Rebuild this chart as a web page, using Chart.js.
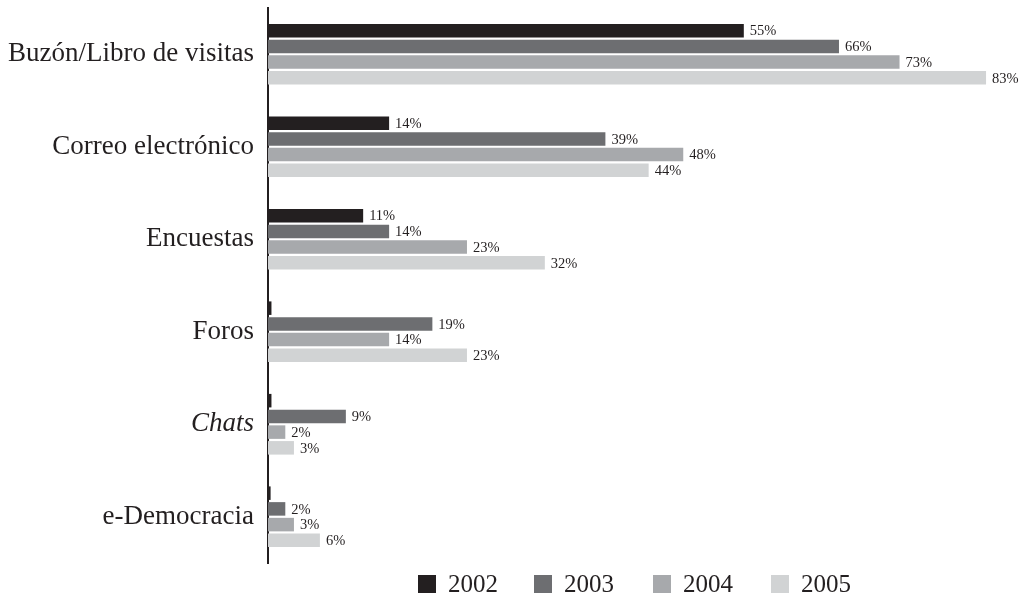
<!DOCTYPE html>
<html>
<head>
<meta charset="utf-8">
<script src="https://cdn.jsdelivr.net/npm/chart.js@4/dist/chart.umd.min.js"></script>
<style>
  html, body { margin: 0; padding: 0; background: #fff; }
  #wrap { width: 1022px; height: 607px; }
</style>
</head>
<body>
<div id="wrap"><canvas id="chart"></canvas></div>
<script>
// categories and values (percent)
const categories = ["Buzón/Libro de visitas", "Correo electrónico", "Encuestas", "Foros", "Chats", "e-Democracia"];
const years = ["2002", "2003", "2004", "2005"];
const v2002 = [55, 14, 11, 0.4, 0.4, 0.3];
const v2003 = [66, 39, 14, 19, 9, 2];
const v2004 = [73, 48, 23, 14, 2, 3];
const v2005 = [83, 44, 32, 23, 3, 6];
// labels shown next to bars (null = no label)
const l2002 = ["55%", "14%", "11%", null, null, null];
const l2003 = ["66%", "39%", "14%", "19%", "9%", "2%"];
const l2004 = ["73%", "48%", "23%", "14%", "2%", "3%"];
const l2005 = ["83%", "44%", "32%", "23%", "3%", "6%"];
const colors = ["#231f20", "#6d6e71", "#a7a9ac", "#d1d3d4"];

const serif = '"Liberation Serif", "DejaVu Serif", serif';

const series = [v2002, v2003, v2004, v2005];
const labelSets = [l2002, l2003, l2004, l2005];

// value labels at the end of each bar
const barLabels = {
  id: 'barLabels',
  afterDatasetsDraw(chart) {
    const ctx = chart.ctx;
    ctx.save();
    ctx.font = '14.5px ' + serif;
    ctx.fillStyle = '#231f20';
    ctx.textBaseline = 'middle';
    ctx.textAlign = 'left';
    chart.data.datasets.forEach((ds, i) => {
      const meta = chart.getDatasetMeta(i);
      meta.data.forEach((bar, j) => {
        const txt = labelSets[i][j];
        if (!txt) return;
        ctx.fillText(txt, bar.x + 6, bar.y + 1);
      });
    });
    ctx.restore();
  }
};

// legend drawn by hand so the spacing matches
const bottomLegend = {
  id: 'bottomLegend',
  afterDraw(chart) {
    const ctx = chart.ctx;
    const xs = [418, 534, 653, 771];
    const y = 584;
    ctx.save();
    ctx.font = '25px ' + serif;
    ctx.textBaseline = 'middle';
    years.forEach((yr, i) => {
      ctx.fillStyle = colors[i];
      ctx.fillRect(xs[i], y - 9, 18, 18);
      ctx.fillStyle = '#231f20';
      ctx.fillText(yr, xs[i] + 30, y + 1);
    });
    ctx.restore();
  }
};

new Chart(document.getElementById('chart'), {
  type: 'bar',
  data: {
    labels: categories,
    datasets: series.map((s, i) => ({
      label: years[i],
      data: s,
      backgroundColor: colors[i],
      borderWidth: 0,
      categoryPercentage: 0.68,
      barPercentage: 0.86
    }))
  },
  options: {
    indexAxis: 'y',
    responsive: true,
    maintainAspectRatio: false,
    animation: false,
    layout: { padding: { left: 0, right: 10, top: 8, bottom: 44 } },
    plugins: {
      legend: { display: false },
      tooltip: { enabled: false }
    },
    scales: {
      x: {
        display: false,
        min: 0,
        max: 86
      },
      y: {
        afterFit(scale) {
          scale.width = 268;
          scale.paddingTop = 0;
          scale.paddingBottom = 0;
        },
        grid: { display: false, drawTicks: false },
        border: { display: true, color: '#231f20', width: 2 },
        ticks: {
          color: '#231f20',
          padding: 14,
          font(c) {
            return { family: serif, size: 27, style: c.index === 4 ? 'italic' : 'normal' };
          }
        }
      }
    }
  },
  plugins: [barLabels, bottomLegend]
});
</script>
</body>
</html>
